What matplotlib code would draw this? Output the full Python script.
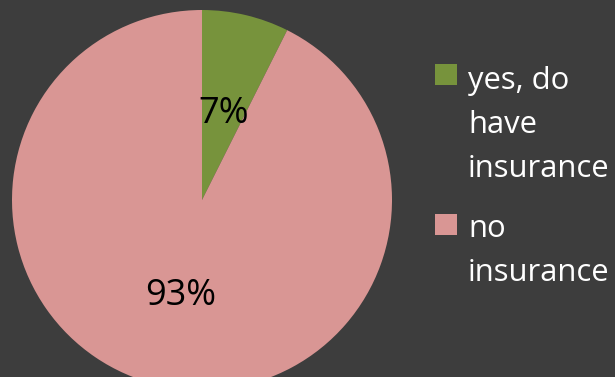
import matplotlib.pyplot as plt
from matplotlib.patches import Rectangle

labels = ["yes, do have insurance", "no insurance"]
shares = [7.4, 92.6]
legend_lines = [["yes, do", "have", "insurance"], ["no", "insurance"]]
colors = ["#77933c", "#d99694"]

W, H = 615, 377
fig = plt.figure(figsize=(W / 100, H / 100), dpi=100)
fig.patch.set_facecolor("#3d3d3d")

ax = fig.add_axes([0, 0, 1, 1])

wedges, texts, autotexts = ax.pie(
    shares,
    colors=colors,
    startangle=90,
    counterclock=False,
    center=(202, H - 200),
    radius=190,
    autopct="%1.0f%%",
    pctdistance=0.49,
    wedgeprops={"linewidth": 0},
    textprops={"fontsize": 26, "family": "Open Sans", "color": "black"},
    frame=True,
)
ax.set_xlim(0, W)
ax.set_ylim(0, H)
ax.set_aspect("equal")
ax.axis("off")

# nudge labels down a little, the way the original sits
for t in autotexts:
    x, y = t.get_position()
    t.set_position((x, y - 5))

# legend drawn by hand so the square sits on the first line
box_top = [64, 214]
first_base = [89, 237]
step = 44
for i, lines in enumerate(legend_lines):
    ax.add_patch(Rectangle((435, H - box_top[i] - 21), 22, 21,
                           facecolor=colors[i], edgecolor="none"))
    for j, line in enumerate(lines):
        ax.text(468, H - (first_base[i] + j * step), line,
                fontsize=22.3, family="Open Sans", color="white",
                ha="left", va="baseline")

fig.savefig("out.png", dpi=100, facecolor=fig.get_facecolor())
